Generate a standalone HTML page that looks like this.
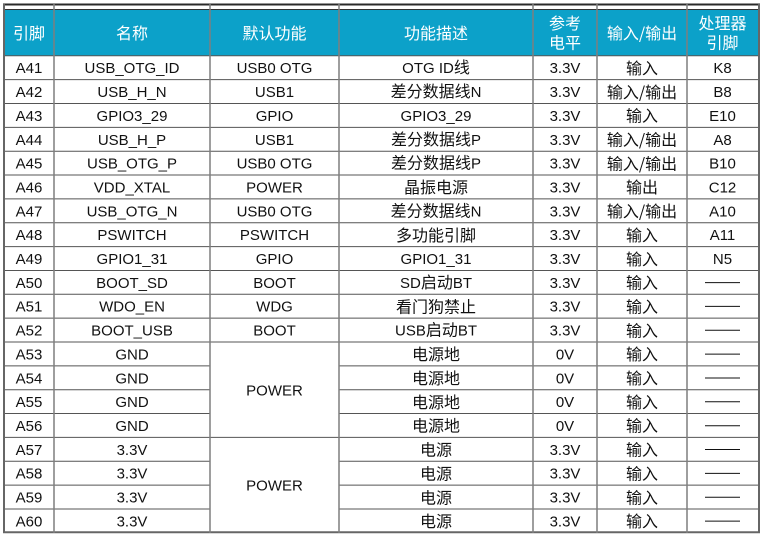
<!DOCTYPE html>
<html><head><meta charset="utf-8">
<style>
html,body{margin:0;padding:0;background:#fff;width:765px;height:539px;overflow:hidden}
svg{display:block}
text{font-family:"Liberation Sans","Noto Sans CJK SC",sans-serif;font-size:15px;fill:#111;text-anchor:middle}
.c{font-family:"Noto Sans CJK SC","WenQuanYi Zen Hei",sans-serif;font-size:16px}
.h{fill:#fff;font-family:"Noto Sans CJK SC","WenQuanYi Zen Hei",sans-serif;font-size:16px}
</style></head><body>
<svg width="765" height="539" viewBox="0 0 765 539" xmlns="http://www.w3.org/2000/svg">
<rect x="4" y="10" width="754" height="45.8" fill="#0ca1c9"/>
<!-- header text -->
<text class="h" x="29" y="39">引脚</text>
<text class="h" x="132" y="39">名称</text>
<text class="h" x="274.5" y="39">默认功能</text>
<text class="h" x="436" y="39">功能描述</text>
<text class="h" x="565" y="29">参考</text>
<text class="h" x="565" y="48.5">电平</text>
<text class="h" x="642" y="39">输入/输出</text>
<text class="h" x="722.5" y="29">处理器</text>
<text class="h" x="722.5" y="48.5">引脚</text>

<!-- rows -->
<g>
<text x="29" y="73.2">A41</text><text x="132" y="73.2">USB_OTG_ID</text><text x="274.5" y="73.2">USB0 OTG</text><text x="436" y="73.2">OTG ID<tspan class="c">线</tspan></text><text x="565" y="73.2">3.3V</text><text class="c" x="642" y="74">输入</text><text x="722.5" y="73.2">K8</text>
<text x="29" y="97.05">A42</text><text x="132" y="97.05">USB_H_N</text><text x="274.5" y="97.05">USB1</text><text x="436" y="97.05"><tspan class="c">差分数据线</tspan>N</text><text x="565" y="97.05">3.3V</text><text class="c" x="642" y="97.8">输入/输出</text><text x="722.5" y="97.05">B8</text>
<text x="29" y="120.9">A43</text><text x="132" y="120.9">GPIO3_29</text><text x="274.5" y="120.9">GPIO</text><text x="436" y="120.9">GPIO3_29</text><text x="565" y="120.9">3.3V</text><text class="c" x="642" y="121.7">输入</text><text x="722.5" y="120.9">E10</text>
<text x="29" y="144.75">A44</text><text x="132" y="144.75">USB_H_P</text><text x="274.5" y="144.75">USB1</text><text x="436" y="144.75"><tspan class="c">差分数据线</tspan>P</text><text x="565" y="144.75">3.3V</text><text class="c" x="642" y="145.5">输入/输出</text><text x="722.5" y="144.75">A8</text>
<text x="29" y="168.6">A45</text><text x="132" y="168.6">USB_OTG_P</text><text x="274.5" y="168.6">USB0 OTG</text><text x="436" y="168.6"><tspan class="c">差分数据线</tspan>P</text><text x="565" y="168.6">3.3V</text><text class="c" x="642" y="169.4">输入/输出</text><text x="722.5" y="168.6">B10</text>
<text x="29" y="192.45">A46</text><text x="132" y="192.45">VDD_XTAL</text><text x="274.5" y="192.45">POWER</text><text class="c" x="436" y="193.2">晶振电源</text><text x="565" y="192.45">3.3V</text><text class="c" x="642" y="193.2">输出</text><text x="722.5" y="192.45">C12</text>
<text x="29" y="216.3">A47</text><text x="132" y="216.3">USB_OTG_N</text><text x="274.5" y="216.3">USB0 OTG</text><text x="436" y="216.3"><tspan class="c">差分数据线</tspan>N</text><text x="565" y="216.3">3.3V</text><text class="c" x="642" y="217.1">输入/输出</text><text x="722.5" y="216.3">A10</text>
<text x="29" y="240.15">A48</text><text x="132" y="240.15">PSWITCH</text><text x="274.5" y="240.15">PSWITCH</text><text class="c" x="436" y="240.9">多功能引脚</text><text x="565" y="240.15">3.3V</text><text class="c" x="642" y="240.9">输入</text><text x="722.5" y="240.15">A11</text>
<text x="29" y="264">A49</text><text x="132" y="264">GPIO1_31</text><text x="274.5" y="264">GPIO</text><text x="436" y="264">GPIO1_31</text><text x="565" y="264">3.3V</text><text class="c" x="642" y="264.8">输入</text><text x="722.5" y="264">N5</text>
<text x="29" y="287.85">A50</text><text x="132" y="287.85">BOOT_SD</text><text x="274.5" y="287.85">BOOT</text><text x="436" y="287.85">SD<tspan class="c">启动</tspan>BT</text><text x="565" y="287.85">3.3V</text><text class="c" x="642" y="288.6">输入</text>
<text x="29" y="311.7">A51</text><text x="132" y="311.7">WDO_EN</text><text x="274.5" y="311.7">WDG</text><text class="c" x="436" y="312.5">看门狗禁止</text><text x="565" y="311.7">3.3V</text><text class="c" x="642" y="312.5">输入</text>
<text x="29" y="335.55">A52</text><text x="132" y="335.55">BOOT_USB</text><text x="274.5" y="335.55">BOOT</text><text x="436" y="335.55">USB<tspan class="c">启动</tspan>BT</text><text x="565" y="335.55">3.3V</text><text class="c" x="642" y="336.3">输入</text>
<text x="29" y="359.4">A53</text><text x="132" y="359.4">GND</text><text class="c" x="436" y="360.2">电源地</text><text x="565" y="359.4">0V</text><text class="c" x="642" y="360.2">输入</text>
<text x="29" y="383.25">A54</text><text x="132" y="383.25">GND</text><text class="c" x="436" y="384">电源地</text><text x="565" y="383.25">0V</text><text class="c" x="642" y="384">输入</text>
<text x="29" y="407.1">A55</text><text x="132" y="407.1">GND</text><text class="c" x="436" y="407.9">电源地</text><text x="565" y="407.1">0V</text><text class="c" x="642" y="407.9">输入</text>
<text x="29" y="430.95">A56</text><text x="132" y="430.95">GND</text><text class="c" x="436" y="431.7">电源地</text><text x="565" y="430.95">0V</text><text class="c" x="642" y="431.7">输入</text>
<text x="29" y="454.8">A57</text><text x="132" y="454.8">3.3V</text><text class="c" x="436" y="455.6">电源</text><text x="565" y="454.8">3.3V</text><text class="c" x="642" y="455.6">输入</text>
<text x="29" y="478.65">A58</text><text x="132" y="478.65">3.3V</text><text class="c" x="436" y="479.4">电源</text><text x="565" y="478.65">3.3V</text><text class="c" x="642" y="479.4">输入</text>
<text x="29" y="502.5">A59</text><text x="132" y="502.5">3.3V</text><text class="c" x="436" y="503.3">电源</text><text x="565" y="502.5">3.3V</text><text class="c" x="642" y="503.3">输入</text>
<text x="29" y="526.35">A60</text><text x="132" y="526.35">3.3V</text><text class="c" x="436" y="527.1">电源</text><text x="565" y="526.35">3.3V</text><text class="c" x="642" y="527.1">输入</text>
<text x="274.5" y="395.5">POWER</text>
<text x="274.5" y="490.5">POWER</text>
</g>

<!-- dashes -->
<g stroke="#111" stroke-width="1">
<line x1="705" y1="282.6" x2="740" y2="282.6"/>
<line x1="705" y1="306.4" x2="740" y2="306.4"/>
<line x1="705" y1="330.3" x2="740" y2="330.3"/>
<line x1="705" y1="354.1" x2="740" y2="354.1"/>
<line x1="705" y1="378.0" x2="740" y2="378.0"/>
<line x1="705" y1="401.8" x2="740" y2="401.8"/>
<line x1="705" y1="425.7" x2="740" y2="425.7"/>
<line x1="705" y1="449.5" x2="740" y2="449.5"/>
<line x1="705" y1="473.4" x2="740" y2="473.4"/>
<line x1="705" y1="497.2" x2="740" y2="497.2"/>
<line x1="705" y1="521.1" x2="740" y2="521.1"/>
</g>

<!-- horizontal lines -->
<g stroke="#555" stroke-width="1">
<line x1="4" y1="55.8" x2="759" y2="55.8"/>
<line x1="4" y1="79.65" x2="759" y2="79.65"/>
<line x1="4" y1="103.5" x2="759" y2="103.5"/>
<line x1="4" y1="127.35" x2="759" y2="127.35"/>
<line x1="4" y1="151.2" x2="759" y2="151.2"/>
<line x1="4" y1="175.05" x2="759" y2="175.05"/>
<line x1="4" y1="198.9" x2="759" y2="198.9"/>
<line x1="4" y1="222.75" x2="759" y2="222.75"/>
<line x1="4" y1="246.6" x2="759" y2="246.6"/>
<line x1="4" y1="270.45" x2="759" y2="270.45"/>
<line x1="4" y1="294.3" x2="759" y2="294.3"/>
<line x1="4" y1="318.15" x2="759" y2="318.15"/>
<line x1="4" y1="342" x2="759" y2="342"/>
<line x1="4" y1="365.85" x2="210" y2="365.85"/><line x1="339" y1="365.85" x2="759" y2="365.85"/>
<line x1="4" y1="389.7" x2="210" y2="389.7"/><line x1="339" y1="389.7" x2="759" y2="389.7"/>
<line x1="4" y1="413.55" x2="210" y2="413.55"/><line x1="339" y1="413.55" x2="759" y2="413.55"/>
<line x1="4" y1="437.4" x2="759" y2="437.4"/>
<line x1="4" y1="461.25" x2="210" y2="461.25"/><line x1="339" y1="461.25" x2="759" y2="461.25"/>
<line x1="4" y1="485.1" x2="210" y2="485.1"/><line x1="339" y1="485.1" x2="759" y2="485.1"/>
<line x1="4" y1="508.95" x2="210" y2="508.95"/><line x1="339" y1="508.95" x2="759" y2="508.95"/>
</g>
<line x1="3" y1="532.3" x2="760" y2="532.3" stroke="#666" stroke-width="2"/>

<!-- top lines -->
<line x1="3" y1="4.5" x2="760" y2="4.5" stroke="#2a2a2a" stroke-width="2"/>
<line x1="4" y1="9.5" x2="759" y2="9.5" stroke="#333" stroke-width="1"/>

<!-- vertical lines -->
<g stroke="#7f7f7f" stroke-width="1.5">
<line x1="54" y1="4" x2="54" y2="533"/>
<line x1="210" y1="4" x2="210" y2="533"/>
<line x1="339" y1="4" x2="339" y2="533"/>
<line x1="533" y1="4" x2="533" y2="533"/>
<line x1="597" y1="4" x2="597" y2="533"/>
<line x1="687" y1="4" x2="687" y2="533"/>
</g>
<g stroke="#666" stroke-width="2">
<line x1="4" y1="4" x2="4" y2="533"/>
<line x1="759" y1="4" x2="759" y2="533"/>
</g>
</svg>
</body></html>
